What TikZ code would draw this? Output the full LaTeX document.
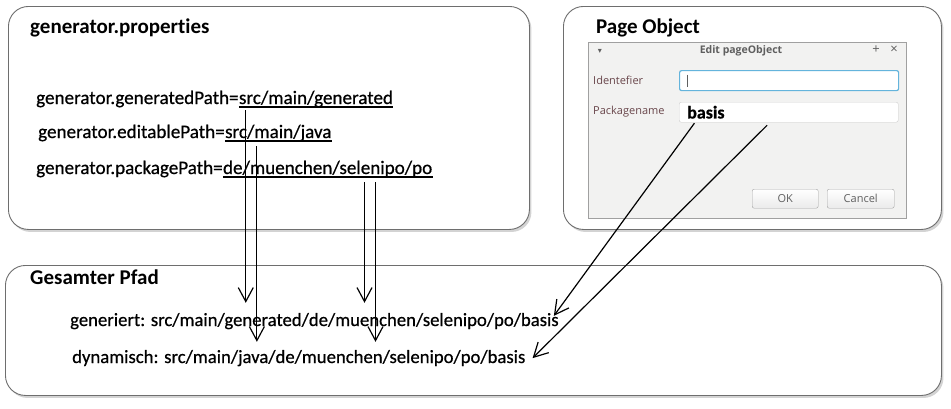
\documentclass[tikz,border=0pt]{standalone}
\usepackage{fontspec}
\setmainfont{Carlito}[Ligatures=NoCommon]
\newfontfamily\dickfont{Carlito}[Ligatures=NoCommon,FakeBold=0.6]
\newfontfamily\dlgfont{Open Sans}
\newfontfamily\symfont{DejaVu Sans}
\usepackage{tikz}
\usetikzlibrary{arrows.meta,shapes,positioning,shadows,calc}

\definecolor{rahmen}{RGB}{110,110,110}
\definecolor{dlgbg}{RGB}{242,242,241}
\definecolor{dlgrand}{RGB}{160,160,160}
\definecolor{feldrand}{RGB}{205,205,205}
\definecolor{fokus}{RGB}{100,180,220}
\definecolor{dlgtext}{RGB}{95,95,95}
\definecolor{labeltext}{RGB}{105,70,75}

\begin{document}
\begin{tikzpicture}[x=1pt,y=-1pt,
    % Stil der Kaesten
    panel/.style={
        draw=rahmen,         % grauer Rand
        fill=white,          % weiss gefuellt
        line width=0.9pt,
        rounded corners=20pt,
        anchor=north west,
        drop shadow={shadow xshift=2pt,shadow yshift=-2.5pt,opacity=0.35}
    },
    % Ueberschriften
    titel/.style={font=\fontsize{21}{24}\selectfont\bfseries, inner sep=0pt, anchor=base west},
    % Textzeilen
    zeile/.style={font=\dickfont\fontsize{18.7}{22}\selectfont, inner sep=0pt, anchor=base west},
    eintrag/.style={zeile, font=\dickfont\fontsize{19.1}{22}\selectfont},
    % Unterstreichung
    strich/.style={line width=1.2pt},
    % Pfeile
    pfeil/.style={-{Straight Barb[length=14pt,width=15pt]}, line width=1.2pt},
    % Dialogfenster
    fenster/.style={draw=dlgrand, fill=dlgbg, anchor=north west, inner sep=0pt},
    dlg/.style={font=\dlgfont\fontsize{11}{13}\selectfont, text=dlgtext, inner sep=0pt},
    feld/.style={draw=feldrand, fill=white, rounded corners=2pt, anchor=north west,
        minimum width=219pt, minimum height=20pt, inner sep=0pt},
    knopf/.style={draw=feldrand!80!black, top color=white, bottom color=black!8,
        rounded corners=2pt, anchor=north west, minimum height=19pt, inner sep=0pt,
        font=\dlgfont\fontsize{11}{13}\selectfont, text=dlgtext}
]
\useasboundingbox (0,0) rectangle (951,408);

% Kaesten
\node[panel, minimum width=521pt, minimum height=223pt] (propBox) at (8,6) {};
\node[panel, minimum width=378pt, minimum height=223pt] (pageBox) at (563,6) {};
\node[panel, minimum width=936pt, minimum height=130pt] (pfadBox) at (5,265) {};

% generator.properties
\node[titel] (propTitle) at (30,33) {generator.properties};
\node[eintrag] (genKey) at (36,104) {generator.generatedPath=};
\node[eintrag] (genVal) at (genKey.base east) {src/main/generated};
\node[eintrag] (javaKey) at (38,138) {generator.editablePath=};
\node[eintrag] (javaVal) at (javaKey.base east) {src/main/java};
\node[eintrag] (pkgKey) at (36,174) {generator.packagePath=};
\node[eintrag] (pkgVal) at (pkgKey.base east) {de/muenchen/selenipo/po};
\foreach \w in {genVal,javaVal,pkgVal}
    \draw[strich] ([yshift=-3pt]\w.base west) -- ([yshift=-3pt]\w.base east);

% Page Object mit Dialog
\node[titel] (pageTitle) at (596,33) {Page Object};
\node[fenster, minimum width=318pt, minimum height=176pt] (dialog) at (588,42) {};
\node[dlg, font=\dlgfont\bfseries\fontsize{10.5}{12}\selectfont] (dlgTitle) at (741,51) {Edit pageObject};
\node[dlg, font=\symfont\fontsize{8}{10}\selectfont] (menuBtn) at (600,51) {▾};
\node[dlg, font=\dlgfont\fontsize{13}{13}\selectfont] (plusBtn) at (876,50) {+};
\node[dlg, font=\dlgfont\fontsize{13}{13}\selectfont] (closeBtn) at (894,50) {×};
\node[dlg, text=labeltext, anchor=west] (idLabel) at (593,80) {Identefier};
\node[dlg, text=labeltext, anchor=west] (pkgLabel) at (593,112) {Packagename};
\node[feld, draw=fokus, line width=1.2pt] (idField) at (679,70) {};
\draw[dlgtext] ([xshift=8pt,yshift=6pt]idField.west) -- ([xshift=8pt,yshift=-6pt]idField.west);
\node[feld] (pkgField) at (679,102) {};
\node[font=\dickfont\fontsize{18}{20}\selectfont\bfseries, inner sep=0pt, anchor=west] (basisText) at ([xshift=8pt]pkgField.west) {basis};
\node[knopf, minimum width=66pt] (okBtn) at (752,189) {OK};
\node[knopf, minimum width=67pt] (cancelBtn) at (827,189) {Cancel};

% Gesamter Pfad
\node[titel] (pfadTitle) at (30,284) {Gesamter Pfad};
\node[zeile] (generiert) at (70,326) {generiert: src/main/generated/de/muenchen/selenipo/po/basis};
\node[zeile] (dynamisch) at (72,363) {dynamisch: src/main/java/de/muenchen/selenipo/po/basis};

% Verbindungen
\draw[pfeil, shorten <=3pt, shorten >=10pt] ([xshift=7pt]genVal.south west) -- ([xshift=7pt]genVal.south west |- generiert.north);
\draw[pfeil, shorten <=5pt, shorten >=8pt] ([xshift=32pt]javaVal.south west) -- ([xshift=32pt]javaVal.south west |- dynamisch.north);
\draw[pfeil, shorten <=5pt, shorten >=10pt] ([xshift=-68pt]pkgVal.south east) -- ([xshift=-68pt]pkgVal.south east |- generiert.north);
\draw[pfeil, shorten <=5pt, shorten >=8pt] ([xshift=-57pt]pkgVal.south east) -- ([xshift=-57pt]pkgVal.south east |- dynamisch.north);
\draw[pfeil, shorten <=1pt] ([xshift=16pt]pkgField.south west) -- ([xshift=-5pt,yshift=-3pt]generiert.north east);
\draw[pfeil, shorten <=4pt] ([xshift=91pt]pkgField.south west) -- ([xshift=7pt]dynamisch.east);

\end{tikzpicture}
\end{document}
